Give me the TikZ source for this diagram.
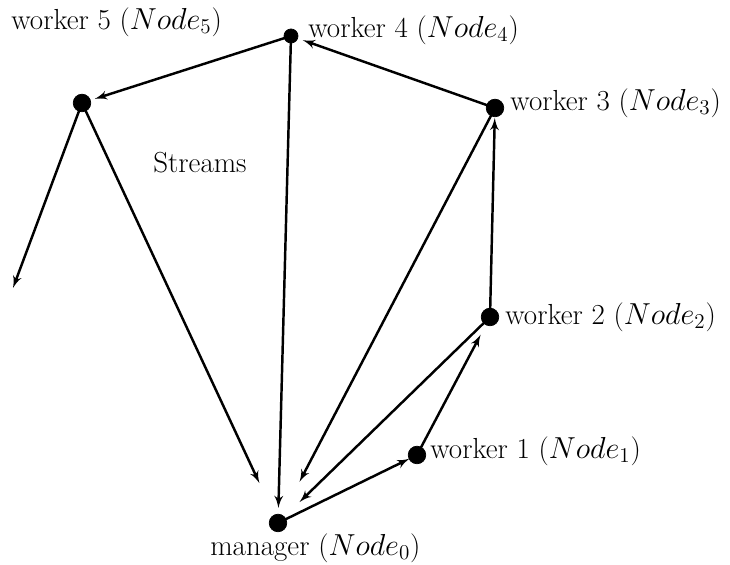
\documentclass[tikz,border=0pt]{standalone}
\usepackage{tkz-euclide}
\usetikzlibrary{arrows,calc}
\tikzset{lbl/.style={font=\fontsize{16.5}{19}\selectfont,inner sep=0pt}}

\begin{document}
\begin{tikzpicture}
\useasboundingbox (0,0) rectangle (14.6,11.3);
\tkzSetUpLine[line width=1.4pt,color=black]
\tkzSetUpPoint[fill=black]

\tkzDefPoints{5.56/0.84/M,8.34/2.20/A,9.80/4.96/B,9.90/9.14/C,5.82/10.58/D,1.64/9.24/E,0.26/5.54/X,4.0/8.04/S}

\tkzDrawSegment[->,>=latex',shorten >=0.17cm](M,A)
\tkzDrawSegment[->,>=latex',shorten >=0.4cm](A,B)
\tkzDrawSegment[->,>=latex',shorten >=0.2cm](B,C)
\tkzDrawSegment[->,>=latex',shorten >=0.25cm](C,D)
\tkzDrawSegment[->,>=latex',shorten >=0.27cm](D,E)
\tkzDrawSegment[->,>=latex'](E,X)

\tkzDrawSegment[->,>=latex',shorten >=0.6cm](B,M)
\tkzDrawSegment[->,>=latex',shorten >=0.93cm](C,M)
\tkzDrawSegment[->,>=latex',shorten >=0.3cm](D,M)
\tkzDrawSegment[->,>=latex',shorten >=0.88cm](E,M)

\tkzDrawPoints[size=10](M,A,B,C,E)
\tkzDrawPoints[size=8](D)

\tkzLabelPoint[lbl,anchor=west,xshift=0.26cm,yshift=0.08cm](A){worker 1 ($Node_1$)}
\tkzLabelPoint[lbl,anchor=west,xshift=0.30cm](B){worker 2 ($Node_2$)}
\tkzLabelPoint[lbl,anchor=west,xshift=0.30cm,yshift=0.10cm](C){worker 3 ($Node_3$)}
\tkzLabelPoint[lbl,anchor=west,xshift=0.34cm,yshift=0.12cm](D){worker 4 ($Node_4$)}
\tkzLabelPoint[lbl,anchor=west,xshift=-1.42cm,yshift=1.62cm](E){worker 5 ($Node_5$)}
\tkzLabelPoint[lbl,anchor=west,xshift=-1.36cm,yshift=-0.5cm](M){manager ($Node_0$)}

\node[lbl] (streams) at (S) {Streams};

\end{tikzpicture}
\end{document}
